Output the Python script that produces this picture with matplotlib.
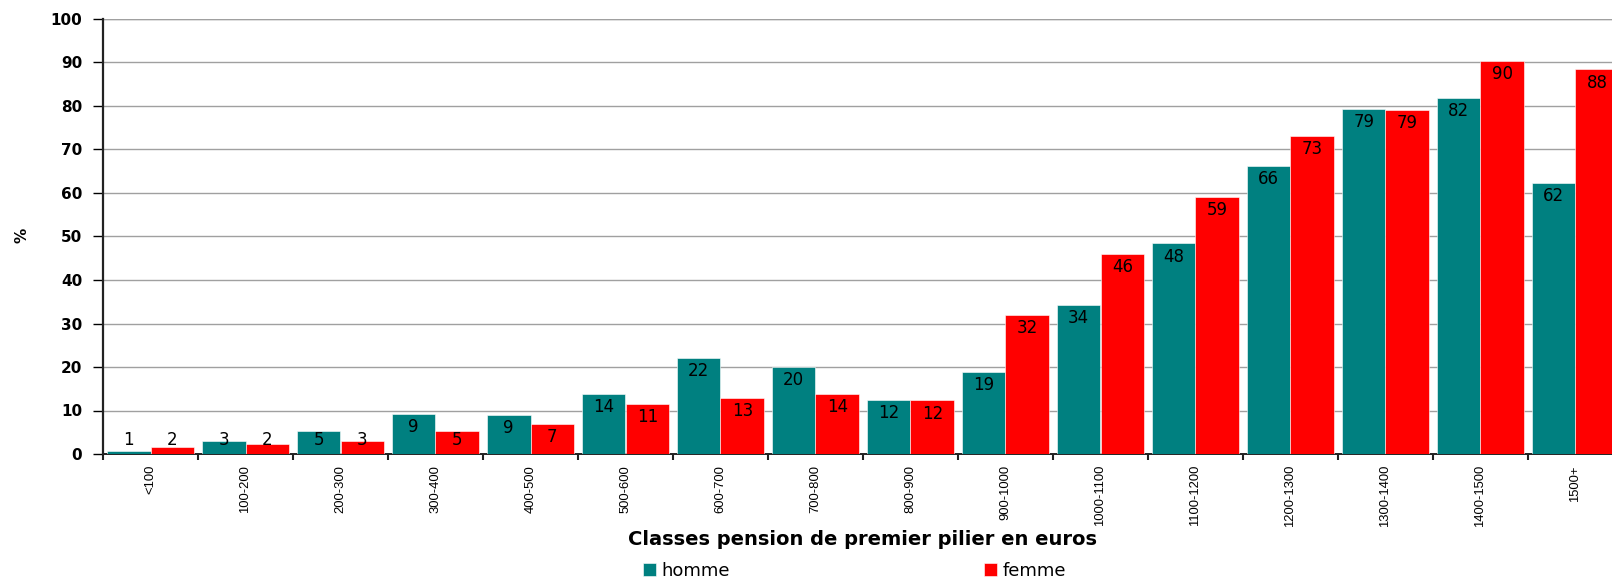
import matplotlib
matplotlib.use("Agg")
import numpy as np
import matplotlib.pyplot as plt

# classes de pension et pourcentages par sexe
classes = ["<100", "100-200", "200-300", "300-400", "400-500", "500-600",
           "600-700", "700-800", "800-900", "900-1000", "1000-1100",
           "1100-1200", "1200-1300", "1300-1400", "1400-1500", "1500+"]
homme = [0.7, 3.0, 5.4, 9.2, 9.0, 13.9, 22.1, 20.0, 12.4, 18.8,
         34.2, 48.4, 66.3, 79.4, 81.8, 62.4]
femme = [1.7, 2.4, 3.0, 5.3, 6.9, 11.4, 12.9, 13.9, 12.3, 32.0,
         46.0, 59.0, 73.0, 79.0, 90.4, 88.4]

teal = "#008080"
rouge = "#ff0000"

fig = plt.figure(figsize=(16.12, 5.8), dpi=100)
ax = fig.add_axes([103 / 1612, 1 - 454 / 580, 1520 / 1612, 435 / 580])

x = np.arange(len(classes))
w = 0.46
b1 = ax.bar(x - w / 2, homme, w, color=teal, edgecolor="white", linewidth=0.4,
            label="homme", zorder=3)
b2 = ax.bar(x + w / 2, femme, w, color=rouge, edgecolor="white", linewidth=0.4,
            label="femme", zorder=3)

# étiquettes de valeur dans le haut des barres
for bars, vals in ((b1, homme), (b2, femme)):
    for rect, v in zip(bars, vals):
        ypos = max(v - 3.0, 3.2)
        ax.text(rect.get_x() + rect.get_width() / 2, ypos, f"{v:.0f}",
                ha="center", va="center", fontsize=12, color="black",
                family="DejaVu Sans", zorder=4)

ax.set_xlim(-0.5, len(classes) - 0.5)
ax.set_ylim(0, 100)
ax.set_yticks(range(0, 101, 10))
ax.yaxis.grid(True, color="#a0a0a0", linewidth=1.0, zorder=0)
ax.axhline(100, color="#666666", linewidth=1.6, zorder=1)

ax.set_xticks(x)
ax.set_xticklabels(classes, rotation=90, fontsize=9.4, family="Liberation Sans")
ax.set_xticks(np.arange(-0.5, len(classes), 1), minor=True)
ax.tick_params(axis="x", which="major", length=0, pad=8)
ax.tick_params(axis="x", which="minor", length=4, width=1.5, color="#222222")
ax.tick_params(axis="y", length=7, width=1.0, pad=8)
for lab in ax.get_yticklabels():
    lab.set_fontweight("bold")
    lab.set_fontsize(11)
    lab.set_family("DejaVu Sans")

for s in ("top", "right"):
    ax.spines[s].set_visible(False)
ax.spines["left"].set_linewidth(1.6)
ax.spines["left"].set_color("#222222")
ax.spines["bottom"].set_linewidth(1.4)
ax.spines["bottom"].set_color("#222222")

fig.text(22 / 1612, 1 - 235 / 580, "%", rotation=90, ha="center", va="center",
         fontsize=11, fontweight="bold", family="DejaVu Sans")
fig.text(862 / 1612, 1 - 545 / 580, "Classes pension de premier pilier en euros",
         ha="center", va="baseline", fontsize=14, fontweight="bold",
         family="DejaVu Sans")

fig.legend(handles=[b1, b2], loc="lower left", ncol=2,
           bbox_to_anchor=(643 / 1612, 0.5 / 580), frameon=False,
           handlelength=0.7, handleheight=0.7, handletextpad=0.3,
           columnspacing=14.1, borderaxespad=0, borderpad=0,
           prop={"family": "DejaVu Sans", "size": 13})

fig.savefig("out.png", dpi=100)
